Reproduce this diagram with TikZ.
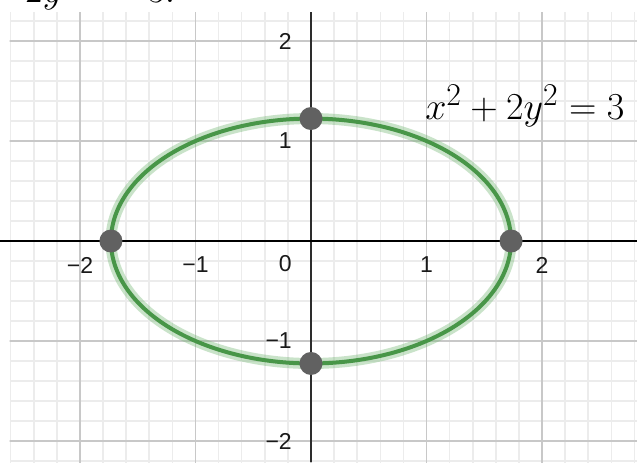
\documentclass[tikz,border=0pt]{standalone}
\usepackage{fontspec}
\newfontfamily\tickfont{Liberation Sans}
\definecolor{minorgrid}{RGB}{236,236,236}
\definecolor{majorgrid}{RGB}{200,200,200}
\definecolor{curvegreen}{RGB}{72,150,72}
\definecolor{halogreen}{RGB}{120,185,120}
\definecolor{dotgray}{RGB}{97,97,97}
\definecolor{yaxisgray}{RGB}{45,45,45}
\tikzset{
  ticklab/.style={font=\tickfont\fontsize{23}{25}\selectfont, text=black!90, inner sep=0pt},
  ptdot/.style={circle, fill=dotgray, inner sep=0pt, minimum size=23pt},
  eqlab/.style={font=\Huge, inner sep=0pt, scale=1.53, transform shape=false}
}
\begin{document}
\begin{tikzpicture}[x=115.5pt, y=100pt]
\useasboundingbox (-2.6926,-2.21) rectangle (2.8225,2.41);
\clip (-2.6926,-2.21) rectangle (2.8225,2.41);
\fill[white] (-2.6926,-2.21) rectangle (2.8225,2.41);
% grid
\begin{scope}
\clip (-2.61,-2.21) rectangle (2.8225,2.29);
\draw[minorgrid, line width=1.6pt] (-2.6,-2.4) grid[xstep=0.2, ystep=0.2] (3,2.4);
\draw[majorgrid, line width=1.8pt] (-3,-3) grid[step=1] (3,3);
\end{scope}
% axes
\draw[yaxisgray, line width=2.2pt] (0,2.29) -- (0,-2.21);
\draw[black, line width=1.6pt] (-2.6926,0) -- (2.8225,0);
% tick labels
\node[ticklab] (xm2) at (-2,-0.24) {−2};
\node[ticklab] (xm1) at (-1,-0.24) {−1};
\node[ticklab] (xp1) at (1,-0.24) {1};
\node[ticklab] (xp2) at (2,-0.24) {2};
\node[ticklab, anchor=east] (o) at (-0.165,-0.23) {0};
\node[ticklab, anchor=east] (yp2) at (-0.165,2) {2};
\node[ticklab, anchor=east] (yp1) at (-0.165,1) {1};
\node[ticklab, anchor=east] (ym1) at (-0.165,-1) {−1};
\node[ticklab, anchor=east] (ym2) at (-0.165,-2) {−2};
% ellipse
\draw[halogreen, opacity=0.4, line width=11pt] plot[domain=0:360, samples=200, smooth cycle] ({sqrt(3)*cos(\x)},{sqrt(1.5)*sin(\x)});
\draw[curvegreen, line width=4pt] plot[domain=0:360, samples=200, smooth cycle] ({sqrt(3)*cos(\x)},{sqrt(1.5)*sin(\x)});
% points
\node[ptdot] (pr) at ({sqrt(3)},0) {};
\node[ptdot] (pl) at ({-sqrt(3)},0) {};
\node[ptdot] (pt) at (0,{sqrt(1.5)}) {};
\node[ptdot] (pb) at (0,{-sqrt(1.5)}) {};
% labels
\node[eqlab, anchor=base west] (eq) at (0.987,1.22) {$x^2+2y^2=3$};
\node[eqlab, anchor=base west] (top) at (-2.476,2.385) {$2y^2\;=\;3.$};
\end{tikzpicture}
\end{document}
